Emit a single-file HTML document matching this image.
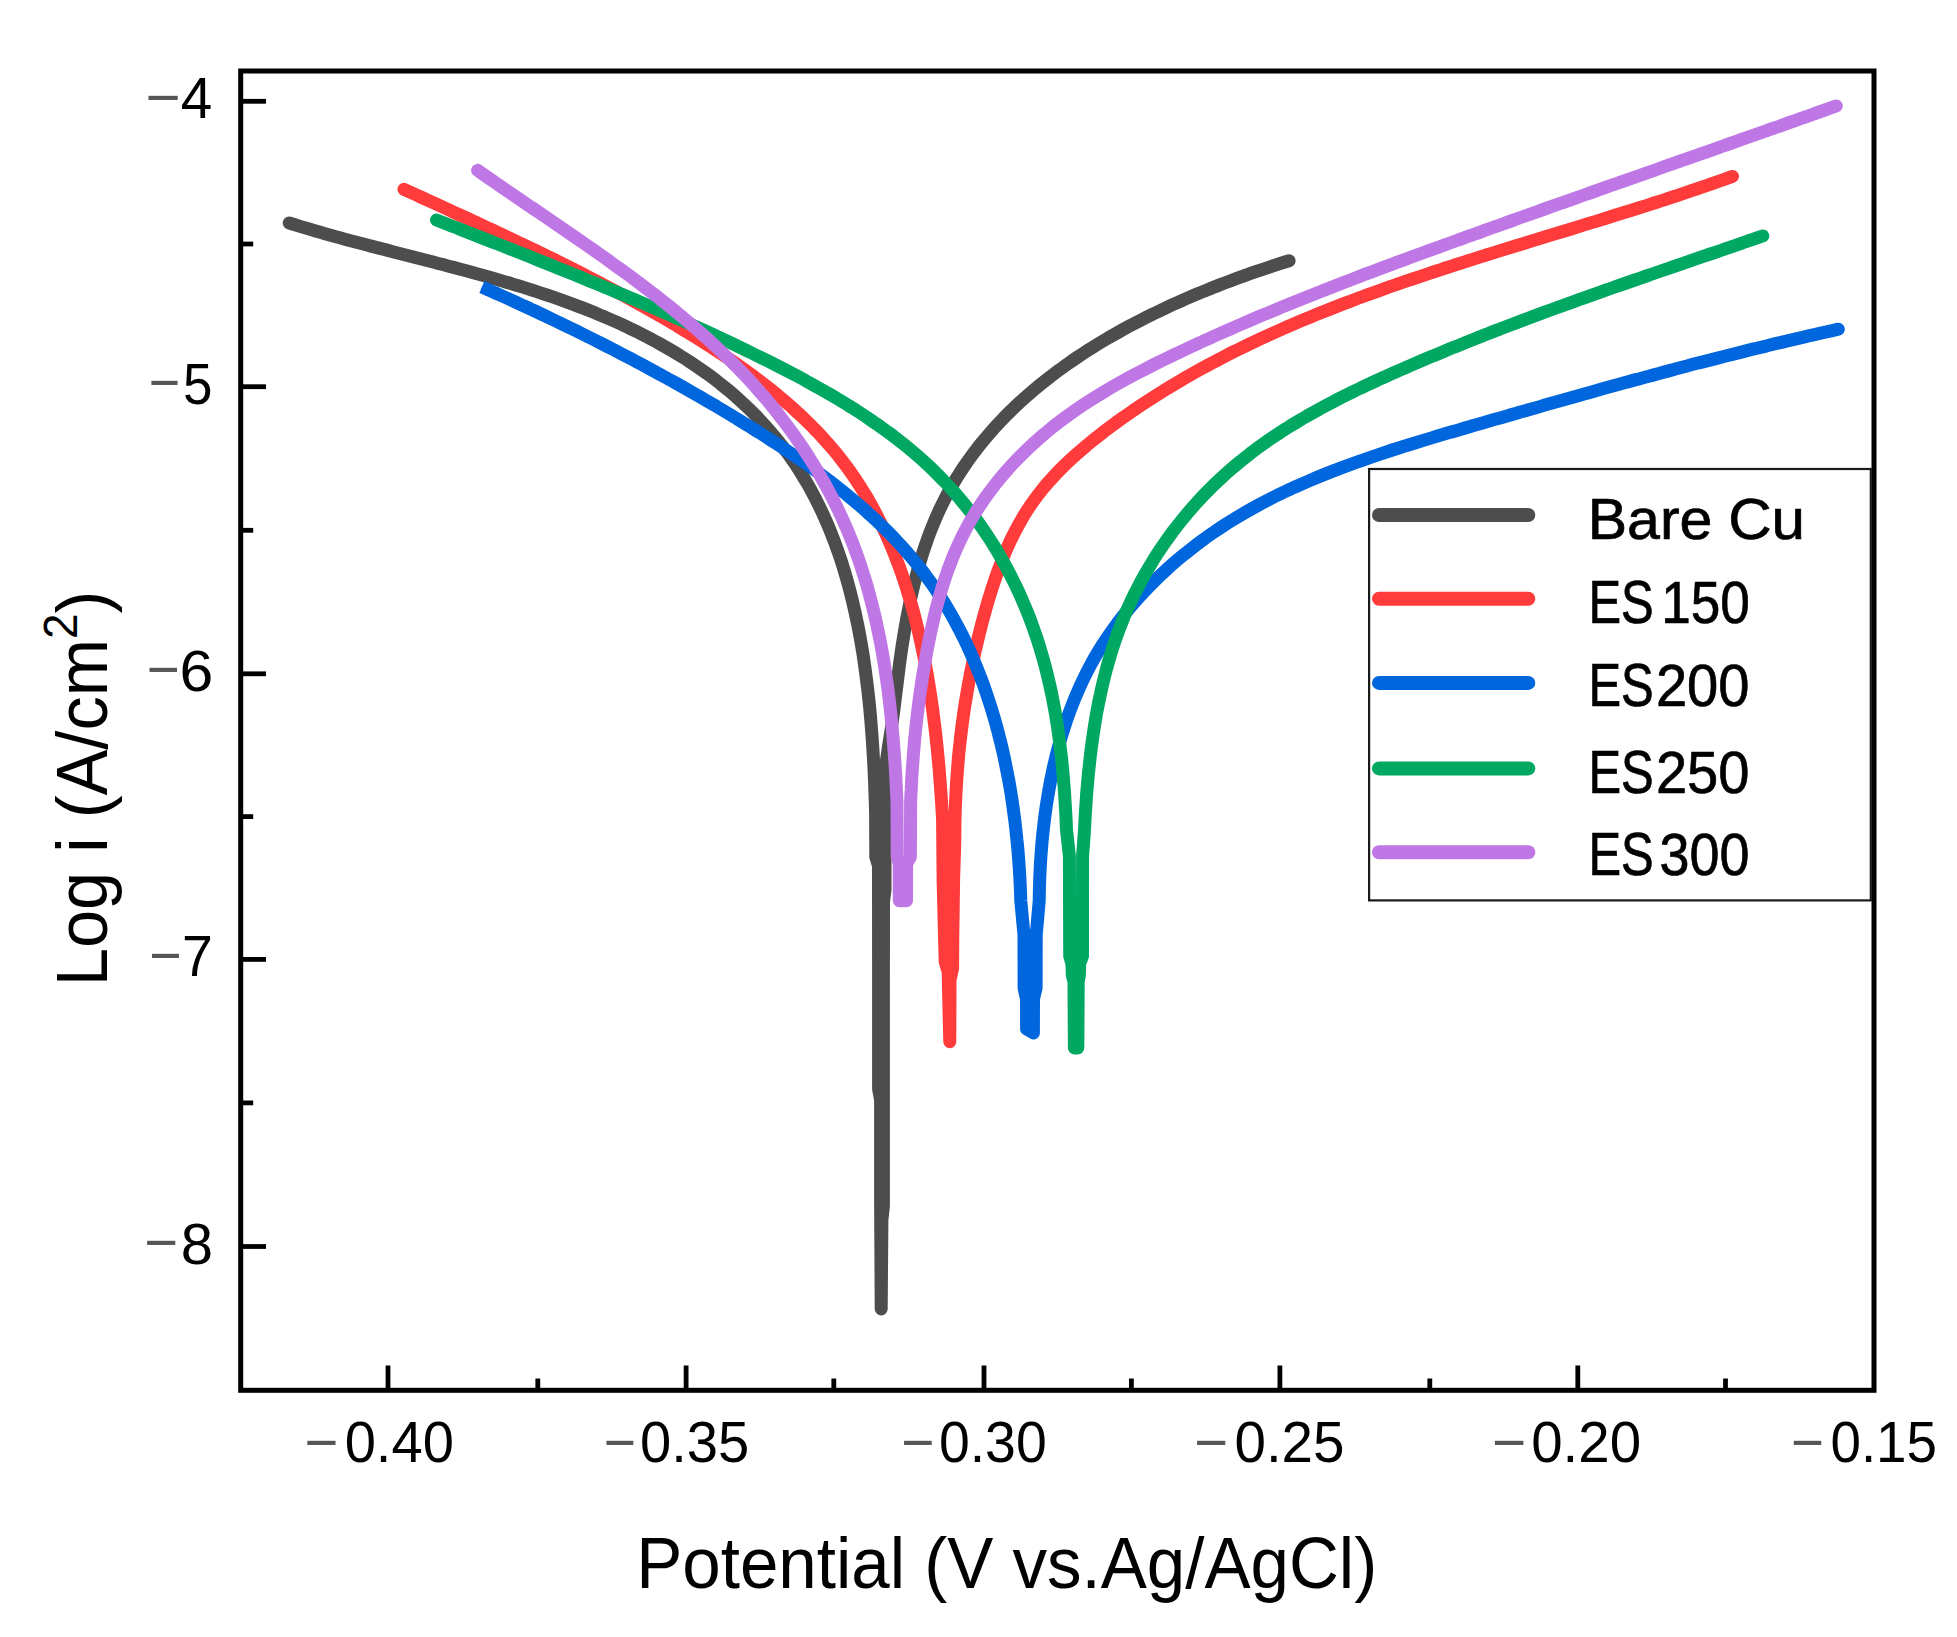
<!DOCTYPE html>
<html lang="en"><head><meta charset="utf-8"><title>Tafel polarization curves</title>
<style>html,body{margin:0;padding:0;background:#fff}svg{display:block}text{font-family:"Liberation Sans", sans-serif;fill:#000}</style>
</head><body>
<svg width="1957" height="1637" viewBox="0 0 1957 1637">
<rect x="0" y="0" width="1957" height="1637" fill="#fff"/>
<g>
<g fill="none" stroke-linejoin="round">
<path d="M289.2 223.0C293.1 224.2 296.9 225.4 300.8 226.6C304.7 227.7 308.6 228.9 312.5 230.0C316.4 231.2 320.3 232.3 324.2 233.4C328.1 234.5 332.0 235.6 335.9 236.7C339.8 237.7 343.7 238.8 347.6 239.9C351.5 240.9 355.5 242.0 359.4 243.0C363.3 244.0 367.2 245.1 371.1 246.1C375.1 247.1 379.0 248.1 382.9 249.1C386.8 250.2 390.8 251.2 394.7 252.2C398.6 253.2 402.5 254.2 406.5 255.2C410.4 256.2 414.3 257.2 418.3 258.2C422.2 259.2 426.1 260.2 430.0 261.2C434.0 262.3 437.9 263.3 441.8 264.3C445.7 265.3 449.6 266.4 453.6 267.4C457.5 268.4 461.4 269.5 465.3 270.5C469.2 271.6 473.1 272.7 477.0 273.8C480.9 274.8 484.9 275.9 488.8 277.0C492.7 278.1 496.5 279.3 500.4 280.4C504.3 281.5 508.2 282.7 512.1 283.9C516.0 285.0 519.9 286.2 523.7 287.4C527.6 288.7 531.5 289.9 535.3 291.1C539.2 292.4 543.0 293.7 546.9 295.0C550.7 296.3 554.5 297.6 558.3 298.9C562.2 300.3 566.0 301.7 569.8 303.1C573.6 304.5 577.4 305.9 581.2 307.4C584.9 308.8 588.7 310.3 592.5 311.8C596.2 313.4 600.0 314.9 603.7 316.5C607.4 318.1 611.2 319.7 614.9 321.4C618.6 323.0 622.2 324.7 625.9 326.4C629.6 328.2 633.2 329.9 636.9 331.7C640.5 333.5 644.1 335.4 647.7 337.2C651.3 339.1 654.9 341.0 658.4 343.0C662.0 345.0 665.5 347.0 669.0 349.0C672.5 351.0 676.0 353.1 679.4 355.3C682.9 357.4 686.3 359.6 689.7 361.8C693.1 364.0 696.4 366.3 699.8 368.6C703.1 370.9 706.4 373.2 709.7 375.6C712.9 378.0 716.2 380.5 719.4 383.0C722.5 385.5 725.7 388.0 728.8 390.6C731.9 393.2 735.0 395.9 738.0 398.6C741.0 401.3 744.0 404.1 746.9 406.9C749.9 409.7 752.7 412.5 755.6 415.4C758.4 418.3 761.2 421.3 763.9 424.3C766.6 427.3 769.3 430.3 771.9 433.4C774.6 436.5 777.1 439.6 779.6 442.8C782.1 446.0 784.6 449.2 787.0 452.5C789.4 455.8 791.7 459.1 794.0 462.4C796.3 465.8 798.5 469.2 800.7 472.6C802.8 476.0 804.9 479.5 807.0 483.0C809.0 486.5 811.0 490.1 812.9 493.7C814.8 497.2 816.6 500.8 818.4 504.5C820.2 508.1 822.0 511.8 823.6 515.5C825.3 519.2 826.9 522.9 828.5 526.6C830.1 530.4 831.6 534.1 833.0 537.9C834.5 541.7 835.9 545.5 837.2 549.3C838.6 553.1 839.9 557.0 841.2 560.8C842.4 564.7 843.6 568.5 844.8 572.4C845.9 576.3 847.1 580.2 848.1 584.1C849.2 588.0 850.2 592.0 851.2 595.9C852.2 599.8 853.1 603.8 854.0 607.7C855.0 611.7 855.8 615.6 856.6 619.6C857.5 623.6 858.3 627.5 859.0 631.5C859.8 635.5 860.5 639.5 861.2 643.5C861.9 647.5 862.5 651.5 863.2 655.5C863.8 659.5 864.4 663.5 864.9 667.5C865.5 671.5 866.0 675.6 866.5 679.6C867.0 683.6 867.5 687.6 868.0 691.7C868.4 695.7 868.9 699.7 869.3 703.7C869.7 707.8 870.1 711.8 870.4 715.9C870.8 719.9 871.1 723.9 871.4 728.0C871.7 732.0 872.0 736.1 872.3 740.1C872.6 744.1 872.8 748.2 873.1 752.2C873.3 756.3 873.5 760.3 873.8 764.4C874.0 768.4 874.2 772.5 874.3 776.5C874.5 780.6 874.7 784.6 874.8 788.7C875.0 792.7 875.1 796.8 875.2 800.8C875.4 804.9 875.5 808.9 875.6 813.0L875.6 813.0L875.8 857.0L878.5 866.0L878.6 1000.0L878.6 1089.0L880.6 1100.0L880.6 1200.0L881.2 1309.0L881.9 1220.0L883.4 1206.0L883.4 1000.0L883.5 902.0L885.0 890.0L885.0 813.0L884.6 772.8C885.2 768.8 885.8 764.7 886.4 760.7C887.0 756.6 887.6 752.6 888.2 748.5C888.8 744.5 889.4 740.5 890.1 736.4C890.7 732.4 891.3 728.3 891.9 724.3C892.4 720.2 893.0 716.2 893.6 712.1C894.1 708.1 894.6 704.0 895.1 700.0C895.6 695.9 896.1 691.8 896.6 687.8C897.1 683.7 897.6 679.7 898.1 675.6C898.6 671.6 899.1 667.5 899.6 663.4C900.2 659.4 900.7 655.3 901.3 651.3C901.9 647.2 902.5 643.2 903.2 639.2C903.8 635.1 904.5 631.1 905.2 627.1C905.9 623.0 906.6 619.0 907.4 615.0C908.2 611.0 909.0 607.0 909.8 603.0C910.6 599.0 911.5 595.0 912.5 591.0C913.4 587.0 914.3 583.0 915.4 579.1C916.4 575.1 917.4 571.2 918.5 567.2C919.7 563.3 920.8 559.4 922.0 555.5C923.3 551.6 924.5 547.7 925.9 543.8C927.2 540.0 928.6 536.1 930.0 532.3C931.5 528.5 933.0 524.7 934.6 520.9C936.2 517.1 937.8 513.4 939.6 509.7C941.3 506.0 943.1 502.3 945.0 498.7C946.8 495.0 948.8 491.4 950.8 487.9C952.8 484.3 954.9 480.8 957.0 477.3C959.2 473.9 961.4 470.4 963.7 467.0C966.0 463.6 968.3 460.3 970.7 457.0C973.1 453.7 975.6 450.4 978.1 447.2C980.7 444.0 983.2 440.8 985.9 437.7C988.5 434.6 991.2 431.5 993.9 428.4C996.7 425.4 999.5 422.4 1002.3 419.5C1005.1 416.5 1008.0 413.6 1010.9 410.8C1013.8 407.9 1016.8 405.1 1019.8 402.3C1022.8 399.5 1025.9 396.8 1029.0 394.1C1032.1 391.5 1035.2 388.8 1038.3 386.2C1041.5 383.6 1044.7 381.1 1047.9 378.6C1051.1 376.0 1054.4 373.6 1057.7 371.1C1061.0 368.7 1064.3 366.3 1067.6 364.0C1071.0 361.6 1074.3 359.3 1077.7 357.0C1081.1 354.8 1084.6 352.5 1088.0 350.3C1091.5 348.1 1094.9 345.9 1098.4 343.8C1101.9 341.7 1105.4 339.6 1108.9 337.5C1112.5 335.5 1116.0 333.5 1119.6 331.5C1123.2 329.5 1126.8 327.5 1130.4 325.6C1134.0 323.7 1137.6 321.8 1141.2 319.9C1144.9 318.0 1148.5 316.2 1152.2 314.4C1155.9 312.6 1159.6 310.8 1163.3 309.1C1167.0 307.3 1170.7 305.6 1174.4 303.9C1178.1 302.2 1181.8 300.6 1185.6 298.9C1189.3 297.3 1193.1 295.7 1196.9 294.1C1200.6 292.5 1204.4 291.0 1208.2 289.5C1212.0 287.9 1215.8 286.4 1219.6 284.9C1223.4 283.5 1227.3 282.0 1231.1 280.6C1234.9 279.1 1238.8 277.7 1242.6 276.3C1246.4 275.0 1250.3 273.6 1254.2 272.2C1258.0 270.9 1261.9 269.6 1265.8 268.3C1269.6 267.0 1273.5 265.7 1277.4 264.4C1281.3 263.2 1285.2 261.9 1289.1 260.7" stroke="#4d4d4d" stroke-width="13" stroke-linecap="round"/>
<path d="M404.0 189.3C407.7 191.0 411.5 192.7 415.2 194.4C418.9 196.1 422.6 197.9 426.4 199.6C430.1 201.3 433.8 203.0 437.6 204.7C441.3 206.4 445.0 208.1 448.8 209.8C452.5 211.6 456.2 213.3 459.9 215.0C463.7 216.7 467.4 218.4 471.1 220.2C474.8 221.9 478.6 223.6 482.3 225.3C486.0 227.1 489.7 228.8 493.4 230.5C497.1 232.3 500.9 234.0 504.6 235.8C508.3 237.5 512.0 239.3 515.7 241.1C519.4 242.8 523.1 244.6 526.8 246.4C530.5 248.1 534.2 249.9 537.9 251.7C541.6 253.5 545.3 255.3 549.0 257.1C552.6 258.9 556.3 260.7 560.0 262.6C563.7 264.4 567.3 266.2 571.0 268.1C574.7 269.9 578.3 271.8 582.0 273.6C585.6 275.5 589.3 277.4 592.9 279.3C596.6 281.1 600.2 283.0 603.8 285.0C607.5 286.9 611.1 288.8 614.7 290.7C618.3 292.7 621.9 294.6 625.5 296.6C629.2 298.5 632.7 300.5 636.3 302.5C639.9 304.5 643.5 306.5 647.1 308.5C650.7 310.5 654.2 312.6 657.8 314.6C661.3 316.7 664.9 318.7 668.4 320.8C672.0 322.9 675.5 325.0 679.0 327.1C682.5 329.2 686.0 331.3 689.5 333.5C693.0 335.6 696.5 337.8 700.0 339.9C703.5 342.1 706.9 344.3 710.4 346.6C713.8 348.8 717.3 351.0 720.7 353.3C724.1 355.6 727.5 357.9 730.9 360.2C734.3 362.5 737.6 364.8 741.0 367.2C744.3 369.6 747.7 372.0 751.0 374.4C754.3 376.9 757.6 379.3 760.8 381.8C764.1 384.3 767.3 386.8 770.5 389.4C773.7 392.0 776.9 394.6 780.0 397.2C783.2 399.8 786.3 402.5 789.4 405.2C792.5 407.9 795.5 410.7 798.5 413.4C801.5 416.2 804.5 419.1 807.4 421.9C810.4 424.8 813.3 427.7 816.1 430.7C819.0 433.6 821.8 436.6 824.5 439.7C827.3 442.7 830.0 445.8 832.6 448.9C835.3 452.0 837.9 455.2 840.4 458.4C843.0 461.7 845.4 464.9 847.9 468.3C850.3 471.6 852.6 474.9 854.9 478.3C857.2 481.7 859.5 485.2 861.6 488.7C863.8 492.1 865.9 495.7 868.0 499.2C870.0 502.8 872.0 506.3 874.0 510.0C875.9 513.6 877.8 517.2 879.6 520.9C881.5 524.6 883.2 528.3 884.9 532.0C886.7 535.7 888.3 539.5 889.9 543.3C891.5 547.0 893.1 550.8 894.6 554.6C896.1 558.5 897.6 562.3 899.0 566.1C900.4 570.0 901.8 573.9 903.1 577.8C904.4 581.6 905.7 585.5 906.9 589.5C908.1 593.4 909.3 597.3 910.5 601.2C911.6 605.2 912.7 609.1 913.8 613.1C914.8 617.1 915.9 621.0 916.8 625.0C917.8 629.0 918.8 633.0 919.7 637.0C920.6 641.0 921.5 645.0 922.3 649.0C923.2 653.0 924.0 657.1 924.8 661.1C925.5 665.1 926.3 669.2 927.0 673.2C927.7 677.2 928.4 681.3 929.0 685.3C929.7 689.4 930.3 693.4 930.9 697.5C931.5 701.6 932.1 705.6 932.7 709.7C933.2 713.7 933.7 717.8 934.2 721.9C934.8 726.0 935.2 730.0 935.7 734.1C936.1 738.2 936.6 742.3 937.0 746.4C937.4 750.4 937.8 754.5 938.2 758.6C938.6 762.7 938.9 766.8 939.3 770.9C939.6 775.0 939.9 779.1 940.2 783.1C940.5 787.2 940.8 791.3 941.1 795.4C941.4 799.5 941.6 803.6 941.9 807.7C942.1 811.8 942.4 815.9 942.6 820.0L942.6 820.0L943.1 880.0L944.6 940.0L945.2 962.0L948.2 972.0L949.0 1010.0L949.8 1041.8L949.9 1010.0L950.0 980.0L952.6 968.0L952.8 936.0L953.6 880.0L954.8 840.0C954.8 835.9 954.8 831.9 954.9 827.8C954.9 823.7 955.0 819.7 955.1 815.6C955.2 811.6 955.3 807.5 955.5 803.4C955.7 799.4 955.8 795.3 956.1 791.3C956.3 787.2 956.5 783.2 956.8 779.1C957.1 775.0 957.4 771.0 957.7 766.9C958.0 762.9 958.4 758.8 958.7 754.8C959.1 750.8 959.5 746.7 960.0 742.7C960.4 738.6 960.9 734.6 961.4 730.6C961.9 726.5 962.4 722.5 963.0 718.5C963.5 714.5 964.1 710.4 964.7 706.4C965.4 702.4 966.0 698.4 966.7 694.4C967.3 690.4 968.1 686.4 968.8 682.4C969.5 678.4 970.3 674.4 971.1 670.4C971.9 666.4 972.7 662.5 973.6 658.5C974.4 654.5 975.3 650.5 976.2 646.6C977.1 642.6 978.1 638.7 979.0 634.7C980.0 630.8 981.0 626.8 982.0 622.9C983.1 619.0 984.1 615.1 985.2 611.2C986.3 607.2 987.4 603.3 988.6 599.4C989.8 595.5 991.0 591.7 992.2 587.8C993.5 583.9 994.7 580.1 996.1 576.2C997.4 572.4 998.8 568.6 1000.3 564.8C1001.7 561.0 1003.2 557.2 1004.8 553.5C1006.4 549.7 1008.0 546.0 1009.7 542.3C1011.4 538.6 1013.2 535.0 1015.1 531.4C1016.9 527.8 1018.9 524.2 1020.9 520.7C1022.9 517.2 1025.0 513.7 1027.2 510.3C1029.4 506.8 1031.7 503.5 1034.1 500.2C1036.5 496.9 1038.9 493.7 1041.5 490.5C1044.0 487.3 1046.7 484.2 1049.4 481.2C1052.0 478.2 1054.8 475.2 1057.6 472.2C1060.4 469.3 1063.3 466.5 1066.3 463.6C1069.2 460.8 1072.2 458.1 1075.2 455.4C1078.2 452.6 1081.3 450.0 1084.4 447.4C1087.5 444.7 1090.6 442.2 1093.8 439.6C1097.0 437.1 1100.2 434.6 1103.4 432.1C1106.6 429.6 1109.9 427.2 1113.2 424.8C1116.4 422.4 1119.7 420.0 1123.0 417.7C1126.4 415.3 1129.7 413.0 1133.0 410.7C1136.4 408.4 1139.8 406.1 1143.1 403.9C1146.5 401.6 1149.9 399.4 1153.4 397.2C1156.8 395.0 1160.2 392.9 1163.7 390.7C1167.1 388.6 1170.6 386.5 1174.1 384.4C1177.6 382.3 1181.1 380.3 1184.6 378.2C1188.1 376.2 1191.6 374.2 1195.2 372.2C1198.7 370.2 1202.3 368.2 1205.9 366.3C1209.4 364.4 1213.0 362.4 1216.6 360.6C1220.2 358.7 1223.8 356.8 1227.4 354.9C1231.0 353.1 1234.7 351.3 1238.3 349.5C1242.0 347.7 1245.6 345.9 1249.3 344.1C1252.9 342.4 1256.6 340.6 1260.3 338.9C1264.0 337.2 1267.7 335.5 1271.4 333.8C1275.1 332.2 1278.8 330.5 1282.5 328.9C1286.2 327.2 1289.9 325.6 1293.7 324.0C1297.4 322.4 1301.2 320.8 1304.9 319.3C1308.7 317.7 1312.4 316.2 1316.2 314.6C1319.9 313.1 1323.7 311.6 1327.5 310.1C1331.3 308.6 1335.1 307.1 1338.8 305.6C1342.6 304.2 1346.4 302.7 1350.2 301.3C1354.0 299.8 1357.8 298.4 1361.6 297.0C1365.4 295.6 1369.3 294.2 1373.1 292.8C1376.9 291.4 1380.7 290.1 1384.6 288.7C1388.4 287.3 1392.2 286.0 1396.1 284.7C1399.9 283.3 1403.7 282.0 1407.6 280.7C1411.4 279.4 1415.3 278.1 1419.1 276.8C1423.0 275.5 1426.8 274.2 1430.7 272.9C1434.5 271.6 1438.4 270.4 1442.3 269.1C1446.1 267.8 1450.0 266.6 1453.8 265.3C1457.7 264.1 1461.6 262.8 1465.5 261.6C1469.3 260.4 1473.2 259.1 1477.1 257.9C1480.9 256.7 1484.8 255.5 1488.7 254.3C1492.6 253.1 1496.5 251.8 1500.3 250.6C1504.2 249.4 1508.1 248.2 1512.0 247.0C1515.9 245.8 1519.7 244.6 1523.6 243.5C1527.5 242.3 1531.4 241.1 1535.3 239.9C1539.2 238.7 1543.1 237.5 1546.9 236.3C1550.8 235.1 1554.7 233.9 1558.6 232.8C1562.5 231.6 1566.4 230.4 1570.3 229.2C1574.1 228.0 1578.0 226.8 1581.9 225.6C1585.8 224.4 1589.7 223.2 1593.6 222.1C1597.4 220.9 1601.3 219.7 1605.2 218.5C1609.1 217.3 1613.0 216.0 1616.8 214.8C1620.7 213.6 1624.6 212.4 1628.5 211.2C1632.4 210.0 1636.2 208.8 1640.1 207.5C1644.0 206.3 1647.8 205.1 1651.7 203.8C1655.6 202.6 1659.4 201.3 1663.3 200.1C1667.2 198.8 1671.0 197.5 1674.9 196.3C1678.7 195.0 1682.6 193.7 1686.5 192.4C1690.3 191.1 1694.2 189.8 1698.0 188.5C1701.8 187.2 1705.7 185.9 1709.5 184.5C1713.4 183.2 1717.2 181.9 1721.0 180.5C1724.9 179.1 1728.7 177.8 1732.5 176.4" stroke="#ff3b3b" stroke-width="13" stroke-linecap="round"/>
<path d="M481.9 287.0 L489.7 290.4" stroke="#0066dd" stroke-width="13" stroke-linecap="butt"/>
<path d="M487.9 289.6C491.6 291.2 495.3 292.9 499.1 294.6C502.8 296.3 506.5 298.0 510.3 299.7C514.0 301.4 517.7 303.1 521.4 304.8C525.1 306.5 528.9 308.2 532.6 310.0C536.3 311.7 540.0 313.4 543.7 315.2C547.4 317.0 551.1 318.7 554.8 320.5C558.5 322.3 562.1 324.0 565.8 325.8C569.5 327.6 573.2 329.4 576.9 331.2C580.5 333.0 584.2 334.8 587.9 336.7C591.5 338.5 595.2 340.3 598.8 342.2C602.5 344.0 606.1 345.9 609.8 347.8C613.4 349.6 617.1 351.5 620.7 353.4C624.3 355.3 628.0 357.2 631.6 359.1C635.2 361.0 638.8 362.9 642.4 364.8C646.0 366.8 649.6 368.7 653.2 370.7C656.8 372.6 660.4 374.6 664.0 376.6C667.6 378.5 671.2 380.5 674.8 382.5C678.3 384.5 681.9 386.5 685.5 388.5C689.0 390.5 692.6 392.6 696.1 394.6C699.7 396.7 703.2 398.7 706.8 400.8C710.3 402.8 713.8 404.9 717.4 407.0C720.9 409.1 724.4 411.2 727.9 413.3C731.4 415.4 734.9 417.5 738.4 419.7C741.9 421.8 745.4 423.9 748.9 426.1C752.3 428.3 755.8 430.4 759.3 432.6C762.7 434.8 766.2 437.0 769.6 439.2C773.1 441.4 776.5 443.7 779.9 445.9C783.3 448.2 786.7 450.5 790.1 452.8C793.5 455.1 796.9 457.4 800.3 459.7C803.6 462.0 807.0 464.4 810.3 466.8C813.6 469.2 816.9 471.6 820.2 474.0C823.5 476.5 826.8 478.9 830.0 481.4C833.3 483.9 836.5 486.4 839.7 489.0C842.9 491.5 846.1 494.1 849.2 496.7C852.4 499.3 855.5 502.0 858.6 504.6C861.7 507.3 864.8 510.0 867.8 512.8C870.9 515.5 873.9 518.3 876.9 521.1C879.8 523.9 882.8 526.8 885.7 529.6C888.6 532.5 891.5 535.4 894.3 538.4C897.1 541.4 899.9 544.4 902.6 547.4C905.4 550.4 908.1 553.5 910.7 556.6C913.4 559.8 916.0 562.9 918.5 566.1C921.1 569.3 923.6 572.6 926.0 575.9C928.5 579.1 930.9 582.5 933.2 585.8C935.5 589.2 937.8 592.6 940.0 596.0C942.2 599.5 944.4 603.0 946.5 606.5C948.6 610.0 950.7 613.5 952.7 617.1C954.7 620.7 956.6 624.3 958.5 627.9C960.4 631.5 962.3 635.2 964.1 638.9C965.9 642.5 967.6 646.2 969.3 650.0C971.0 653.7 972.6 657.4 974.2 661.2C975.8 665.0 977.3 668.8 978.8 672.6C980.3 676.4 981.8 680.2 983.2 684.1C984.6 687.9 985.9 691.8 987.2 695.7C988.5 699.6 989.8 703.5 991.0 707.4C992.2 711.3 993.4 715.2 994.5 719.1C995.7 723.1 996.7 727.0 997.8 731.0C998.8 734.9 999.8 738.9 1000.8 742.9C1001.8 746.9 1002.7 750.8 1003.6 754.8C1004.5 758.8 1005.3 762.8 1006.1 766.9C1006.9 770.9 1007.7 774.9 1008.5 778.9C1009.2 782.9 1009.9 787.0 1010.6 791.0C1011.2 795.1 1011.9 799.1 1012.5 803.2C1013.1 807.2 1013.6 811.3 1014.1 815.3C1014.7 819.4 1015.2 823.4 1015.6 827.5C1016.1 831.6 1016.5 835.6 1016.9 839.7C1017.4 843.8 1017.7 847.9 1018.1 852.0C1018.4 856.0 1018.7 860.1 1019.0 864.2C1019.3 868.3 1019.5 872.4 1019.8 876.5C1020.0 880.5 1020.2 884.6 1020.4 888.7C1020.5 892.8 1020.7 896.9 1020.8 901.0L1020.8 901.0L1024.0 935.0L1024.1 988.0L1026.5 999.0L1026.6 1029.0L1033.4 1033.0L1033.5 999.0L1036.1 988.0L1036.2 935.0L1039.2 901.0C1039.3 896.9 1039.3 892.9 1039.4 888.8C1039.5 884.7 1039.7 880.7 1039.8 876.6C1040.0 872.5 1040.2 868.5 1040.4 864.4C1040.7 860.4 1040.9 856.3 1041.2 852.2C1041.5 848.2 1041.9 844.1 1042.2 840.1C1042.6 836.0 1043.0 832.0 1043.5 827.9C1043.9 823.9 1044.4 819.9 1044.9 815.8C1045.5 811.8 1046.0 807.8 1046.6 803.7C1047.3 799.7 1047.9 795.7 1048.6 791.7C1049.3 787.7 1050.0 783.7 1050.8 779.7C1051.6 775.7 1052.5 771.7 1053.3 767.8C1054.2 763.8 1055.2 759.8 1056.1 755.9C1057.1 751.9 1058.2 748.0 1059.2 744.1C1060.3 740.2 1061.5 736.3 1062.7 732.4C1063.9 728.5 1065.1 724.6 1066.4 720.8C1067.8 716.9 1069.1 713.1 1070.5 709.3C1072.0 705.5 1073.5 701.7 1075.0 697.9C1076.6 694.2 1078.2 690.4 1079.9 686.7C1081.5 683.0 1083.3 679.3 1085.1 675.7C1086.9 672.0 1088.8 668.4 1090.7 664.8C1092.6 661.3 1094.6 657.7 1096.7 654.2C1098.8 650.7 1100.9 647.3 1103.1 643.9C1105.3 640.4 1107.6 637.0 1109.9 633.7C1112.2 630.4 1114.6 627.1 1117.0 623.8C1119.5 620.6 1122.0 617.3 1124.5 614.2C1127.1 611.0 1129.7 607.9 1132.3 604.8C1135.0 601.7 1137.7 598.6 1140.4 595.6C1143.1 592.6 1145.9 589.7 1148.8 586.8C1151.6 583.8 1154.5 581.0 1157.4 578.1C1160.3 575.3 1163.3 572.5 1166.3 569.8C1169.3 567.0 1172.4 564.3 1175.4 561.7C1178.5 559.0 1181.6 556.4 1184.8 553.9C1188.0 551.3 1191.2 548.8 1194.4 546.3C1197.6 543.8 1200.9 541.4 1204.2 539.0C1207.5 536.6 1210.8 534.3 1214.1 532.0C1217.5 529.7 1220.9 527.4 1224.3 525.2C1227.7 523.0 1231.2 520.9 1234.6 518.8C1238.1 516.6 1241.6 514.6 1245.1 512.5C1248.7 510.5 1252.2 508.5 1255.8 506.5C1259.3 504.6 1262.9 502.7 1266.6 500.8C1270.2 498.9 1273.8 497.1 1277.4 495.3C1281.1 493.5 1284.8 491.8 1288.4 490.0C1292.1 488.3 1295.8 486.6 1299.5 485.0C1303.3 483.3 1307.0 481.7 1310.7 480.1C1314.5 478.5 1318.2 476.9 1322.0 475.4C1325.8 473.9 1329.6 472.4 1333.3 470.9C1337.1 469.4 1340.9 468.0 1344.7 466.6C1348.6 465.1 1352.4 463.7 1356.2 462.4C1360.0 461.0 1363.9 459.6 1367.7 458.3C1371.6 457.0 1375.4 455.7 1379.3 454.4C1383.1 453.1 1387.0 451.8 1390.9 450.5C1394.7 449.3 1398.6 448.0 1402.5 446.8C1406.4 445.6 1410.2 444.4 1414.1 443.2C1418.0 442.0 1421.9 440.8 1425.8 439.6C1429.7 438.4 1433.6 437.3 1437.5 436.1C1441.4 434.9 1445.3 433.8 1449.2 432.6C1453.1 431.5 1457.0 430.4 1460.9 429.2C1464.8 428.1 1468.7 427.0 1472.6 425.8C1476.5 424.7 1480.4 423.6 1484.3 422.5C1488.3 421.3 1492.2 420.2 1496.1 419.1C1500.0 418.0 1503.9 416.8 1507.8 415.7C1511.7 414.6 1515.6 413.5 1519.5 412.3C1523.4 411.2 1527.4 410.1 1531.3 409.0C1535.2 407.9 1539.1 406.8 1543.0 405.6C1546.9 404.5 1550.8 403.4 1554.7 402.3C1558.7 401.2 1562.6 400.1 1566.5 399.0C1570.4 397.9 1574.3 396.8 1578.2 395.7C1582.1 394.6 1586.1 393.5 1590.0 392.4C1593.9 391.3 1597.8 390.2 1601.7 389.1C1605.7 388.0 1609.6 386.9 1613.5 385.8C1617.4 384.8 1621.3 383.7 1625.3 382.6C1629.2 381.5 1633.1 380.4 1637.0 379.4C1641.0 378.3 1644.9 377.2 1648.8 376.2C1652.7 375.1 1656.7 374.1 1660.6 373.0C1664.5 372.0 1668.4 370.9 1672.4 369.9C1676.3 368.8 1680.2 367.8 1684.2 366.7C1688.1 365.7 1692.0 364.7 1696.0 363.6C1699.9 362.6 1703.9 361.6 1707.8 360.6C1711.7 359.6 1715.7 358.6 1719.6 357.6C1723.6 356.5 1727.5 355.5 1731.4 354.6C1735.4 353.6 1739.3 352.6 1743.3 351.6C1747.2 350.6 1751.2 349.6 1755.1 348.7C1759.1 347.7 1763.0 346.7 1767.0 345.8C1770.9 344.8 1774.9 343.8 1778.8 342.9C1782.8 342.0 1786.8 341.0 1790.7 340.1C1794.7 339.1 1798.6 338.2 1802.6 337.3C1806.6 336.4 1810.5 335.5 1814.5 334.6C1818.5 333.6 1822.4 332.7 1826.4 331.9C1830.4 331.0 1834.3 330.1 1838.3 329.2" stroke="#0066dd" stroke-width="13" stroke-linecap="round"/>
<path d="M436.5 220.0C440.3 221.5 444.1 223.0 447.9 224.5C451.7 226.0 455.5 227.5 459.2 228.9C463.0 230.4 466.8 231.9 470.6 233.4C474.4 234.9 478.2 236.4 482.0 237.9C485.8 239.4 489.6 240.9 493.4 242.4C497.2 243.8 500.9 245.3 504.7 246.8C508.5 248.3 512.3 249.8 516.1 251.3C519.9 252.8 523.7 254.3 527.5 255.8C531.2 257.3 535.0 258.8 538.8 260.4C542.6 261.9 546.4 263.4 550.2 264.9C553.9 266.4 557.7 267.9 561.5 269.5C565.3 271.0 569.1 272.5 572.8 274.0C576.6 275.6 580.4 277.1 584.1 278.7C587.9 280.2 591.7 281.7 595.5 283.3C599.2 284.8 603.0 286.4 606.7 288.0C610.5 289.5 614.3 291.1 618.0 292.7C621.8 294.3 625.5 295.8 629.3 297.4C633.0 299.0 636.8 300.6 640.5 302.2C644.3 303.8 648.0 305.4 651.7 307.1C655.5 308.7 659.2 310.3 663.0 311.9C666.7 313.6 670.4 315.2 674.1 316.9C677.9 318.5 681.6 320.2 685.3 321.9C689.0 323.5 692.7 325.2 696.4 326.9C700.1 328.6 703.8 330.3 707.5 332.0C711.2 333.7 714.9 335.4 718.6 337.1C722.3 338.9 726.0 340.6 729.7 342.3C733.4 344.1 737.0 345.9 740.7 347.6C744.4 349.4 748.0 351.2 751.7 353.0C755.3 354.8 759.0 356.6 762.6 358.4C766.3 360.2 769.9 362.0 773.6 363.9C777.2 365.7 780.8 367.6 784.4 369.4C788.1 371.3 791.7 373.2 795.3 375.1C798.9 377.0 802.5 378.9 806.0 380.9C809.6 382.8 813.2 384.8 816.7 386.8C820.3 388.8 823.8 390.8 827.4 392.8C830.9 394.9 834.4 396.9 837.9 399.0C841.4 401.1 844.9 403.2 848.3 405.4C851.8 407.5 855.2 409.7 858.6 411.9C862.1 414.1 865.5 416.4 868.8 418.7C872.2 420.9 875.6 423.3 878.9 425.6C882.2 428.0 885.5 430.3 888.8 432.8C892.1 435.2 895.3 437.7 898.5 440.2C901.7 442.7 904.9 445.2 908.1 447.8C911.2 450.4 914.3 453.0 917.4 455.7C920.5 458.4 923.5 461.1 926.5 463.8C929.5 466.6 932.5 469.4 935.4 472.3C938.3 475.1 941.1 478.0 943.9 481.0C946.8 483.9 949.5 486.9 952.2 489.9C955.0 493.0 957.6 496.1 960.2 499.2C962.9 502.3 965.4 505.5 967.9 508.7C970.5 511.9 972.9 515.1 975.4 518.4C977.8 521.7 980.1 525.0 982.5 528.3C984.8 531.7 987.0 535.1 989.3 538.5C991.5 541.9 993.6 545.3 995.8 548.8C997.9 552.3 999.9 555.8 1001.9 559.4C1004.0 562.9 1005.9 566.5 1007.8 570.1C1009.7 573.7 1011.6 577.3 1013.4 581.0C1015.2 584.6 1017.0 588.3 1018.7 592.0C1020.4 595.7 1022.0 599.4 1023.6 603.2C1025.2 606.9 1026.8 610.7 1028.3 614.5C1029.8 618.3 1031.2 622.1 1032.6 625.9C1034.0 629.7 1035.3 633.6 1036.6 637.4C1037.9 641.3 1039.1 645.2 1040.3 649.1C1041.5 653.0 1042.6 656.9 1043.7 660.8C1044.8 664.7 1045.8 668.7 1046.8 672.6C1047.8 676.6 1048.7 680.5 1049.6 684.5C1050.5 688.5 1051.4 692.5 1052.2 696.5C1053.0 700.5 1053.7 704.5 1054.5 708.5C1055.2 712.5 1055.9 716.5 1056.5 720.5C1057.2 724.6 1057.8 728.6 1058.3 732.6C1058.9 736.6 1059.4 740.7 1059.9 744.7C1060.4 748.8 1060.9 752.8 1061.4 756.9C1061.8 760.9 1062.2 765.0 1062.6 769.0C1063.0 773.1 1063.3 777.1 1063.6 781.2C1064.0 785.3 1064.3 789.3 1064.6 793.4C1064.8 797.5 1065.1 801.5 1065.3 805.6C1065.6 809.7 1065.8 813.7 1066.0 817.8C1066.2 821.9 1066.3 825.9 1066.5 830.0L1066.5 830.0L1069.4 856.0L1069.6 920.0L1069.7 956.0L1072.0 964.0L1072.3 975.0L1074.0 982.0L1074.2 1020.0L1074.4 1047.9L1077.8 1047.9L1078.0 1020.0L1078.2 982.0L1079.4 975.0L1079.6 964.0L1082.5 956.0L1082.5 920.0L1082.6 856.0L1084.5 830.0C1084.7 826.0 1084.9 821.9 1085.1 817.9C1085.3 813.8 1085.6 809.8 1085.9 805.7C1086.1 801.7 1086.4 797.6 1086.7 793.6C1087.0 789.5 1087.4 785.5 1087.7 781.4C1088.1 777.4 1088.4 773.4 1088.9 769.3C1089.3 765.3 1089.7 761.3 1090.2 757.2C1090.6 753.2 1091.1 749.2 1091.7 745.2C1092.2 741.1 1092.8 737.1 1093.4 733.1C1094.0 729.1 1094.6 725.1 1095.3 721.1C1095.9 717.1 1096.6 713.1 1097.4 709.1C1098.1 705.1 1098.9 701.2 1099.8 697.2C1100.6 693.2 1101.5 689.3 1102.4 685.3C1103.3 681.4 1104.3 677.4 1105.3 673.5C1106.3 669.6 1107.4 665.7 1108.5 661.8C1109.6 657.9 1110.8 654.0 1112.0 650.1C1113.2 646.2 1114.5 642.4 1115.8 638.6C1117.2 634.7 1118.5 630.9 1120.0 627.1C1121.4 623.4 1123.0 619.6 1124.5 615.9C1126.1 612.1 1127.7 608.4 1129.4 604.7C1131.1 601.0 1132.8 597.4 1134.6 593.7C1136.4 590.1 1138.3 586.5 1140.2 582.9C1142.1 579.3 1144.1 575.8 1146.1 572.3C1148.1 568.7 1150.2 565.3 1152.3 561.8C1154.4 558.3 1156.6 554.9 1158.8 551.5C1161.1 548.2 1163.3 544.8 1165.7 541.5C1168.0 538.2 1170.4 534.9 1172.8 531.6C1175.3 528.4 1177.7 525.2 1180.3 522.0C1182.8 518.9 1185.4 515.7 1188.0 512.6C1190.6 509.5 1193.3 506.5 1196.0 503.5C1198.8 500.5 1201.5 497.5 1204.3 494.6C1207.1 491.7 1210.0 488.8 1212.9 485.9C1215.8 483.1 1218.7 480.3 1221.7 477.6C1224.7 474.8 1227.7 472.1 1230.8 469.4C1233.8 466.8 1236.9 464.2 1240.1 461.6C1243.2 459.0 1246.4 456.5 1249.6 454.0C1252.8 451.6 1256.1 449.1 1259.3 446.8C1262.6 444.4 1265.9 442.0 1269.3 439.7C1272.6 437.4 1276.0 435.2 1279.4 433.0C1282.8 430.7 1286.2 428.6 1289.6 426.4C1293.1 424.3 1296.6 422.2 1300.0 420.1C1303.5 418.1 1307.0 416.0 1310.6 414.0C1314.1 412.0 1317.6 410.1 1321.2 408.1C1324.8 406.2 1328.3 404.3 1331.9 402.4C1335.5 400.5 1339.1 398.7 1342.8 396.8C1346.4 395.0 1350.0 393.2 1353.7 391.4C1357.3 389.6 1361.0 387.9 1364.6 386.1C1368.3 384.4 1372.0 382.7 1375.6 381.0C1379.3 379.3 1383.0 377.6 1386.7 376.0C1390.4 374.3 1394.1 372.6 1397.8 371.0C1401.5 369.4 1405.3 367.8 1409.0 366.1C1412.7 364.5 1416.4 362.9 1420.2 361.3C1423.9 359.7 1427.6 358.2 1431.4 356.6C1435.1 355.0 1438.8 353.5 1442.6 351.9C1446.3 350.4 1450.1 348.8 1453.8 347.3C1457.6 345.8 1461.4 344.2 1465.1 342.7C1468.9 341.2 1472.6 339.7 1476.4 338.2C1480.2 336.7 1484.0 335.3 1487.7 333.8C1491.5 332.3 1495.3 330.8 1499.1 329.4C1502.9 327.9 1506.7 326.5 1510.4 325.0C1514.2 323.6 1518.0 322.1 1521.8 320.7C1525.6 319.3 1529.4 317.9 1533.2 316.4C1537.0 315.0 1540.8 313.6 1544.6 312.2C1548.4 310.8 1552.2 309.4 1556.0 308.0C1559.8 306.6 1563.7 305.2 1567.5 303.9C1571.3 302.5 1575.1 301.1 1578.9 299.7C1582.7 298.4 1586.6 297.0 1590.4 295.6C1594.2 294.3 1598.0 292.9 1601.8 291.6C1605.7 290.2 1609.5 288.9 1613.3 287.5C1617.1 286.2 1621.0 284.8 1624.8 283.5C1628.6 282.2 1632.5 280.8 1636.3 279.5C1640.1 278.2 1643.9 276.8 1647.8 275.5C1651.6 274.2 1655.4 272.9 1659.3 271.5C1663.1 270.2 1666.9 268.9 1670.8 267.6C1674.6 266.3 1678.4 264.9 1682.3 263.6C1686.1 262.3 1689.9 261.0 1693.8 259.7C1697.6 258.4 1701.5 257.0 1705.3 255.7C1709.1 254.4 1713.0 253.1 1716.8 251.8C1720.6 250.4 1724.5 249.1 1728.3 247.8C1732.1 246.5 1736.0 245.2 1739.8 243.9C1743.6 242.5 1747.5 241.2 1751.3 239.9C1755.1 238.6 1759.0 237.2 1762.8 235.9" stroke="#00a862" stroke-width="13" stroke-linecap="round"/>
<path d="M477.6 170.3C481.0 172.7 484.3 175.0 487.7 177.4C491.1 179.7 494.5 182.1 497.8 184.4C501.2 186.7 504.6 189.1 508.0 191.4C511.4 193.7 514.8 196.0 518.2 198.4C521.6 200.7 525.0 203.0 528.4 205.3C531.8 207.6 535.2 209.9 538.6 212.2C542.0 214.6 545.4 216.9 548.8 219.2C552.2 221.5 555.6 223.8 559.0 226.1C562.4 228.4 565.8 230.8 569.2 233.1C572.6 235.4 576.0 237.8 579.4 240.1C582.7 242.4 586.1 244.8 589.5 247.1C592.9 249.5 596.2 251.8 599.6 254.2C603.0 256.6 606.3 259.0 609.7 261.4C613.0 263.8 616.3 266.2 619.7 268.6C623.0 271.0 626.3 273.4 629.6 275.8C632.9 278.3 636.2 280.7 639.5 283.2C642.8 285.7 646.1 288.2 649.4 290.7C652.6 293.2 655.9 295.7 659.1 298.2C662.3 300.8 665.6 303.3 668.8 305.9C672.0 308.5 675.2 311.1 678.3 313.7C681.5 316.3 684.7 318.9 687.8 321.6C690.9 324.3 694.1 326.9 697.2 329.7C700.3 332.4 703.3 335.1 706.4 337.8C709.4 340.6 712.5 343.4 715.5 346.2C718.5 349.0 721.5 351.8 724.4 354.7C727.4 357.5 730.3 360.4 733.2 363.3C736.1 366.3 739.0 369.2 741.8 372.2C744.7 375.1 747.5 378.1 750.3 381.2C753.1 384.2 755.8 387.3 758.5 390.4C761.2 393.4 763.9 396.6 766.6 399.7C769.2 402.9 771.8 406.0 774.4 409.2C777.0 412.4 779.5 415.7 782.0 418.9C784.5 422.2 787.0 425.5 789.4 428.8C791.9 432.1 794.3 435.5 796.6 438.8C799.0 442.2 801.3 445.6 803.6 449.0C805.9 452.4 808.1 455.9 810.3 459.4C812.5 462.9 814.6 466.4 816.8 469.9C818.9 473.4 820.9 477.0 823.0 480.6C825.0 484.1 827.0 487.7 828.9 491.4C830.8 495.0 832.7 498.7 834.6 502.3C836.4 506.0 838.2 509.7 839.9 513.4C841.7 517.2 843.4 520.9 845.0 524.7C846.7 528.4 848.3 532.2 849.8 536.0C851.4 539.8 852.9 543.7 854.3 547.5C855.8 551.4 857.2 555.2 858.5 559.1C859.9 563.0 861.2 566.9 862.4 570.8C863.7 574.8 864.9 578.7 866.1 582.6C867.2 586.6 868.4 590.5 869.4 594.5C870.5 598.5 871.5 602.4 872.5 606.4C873.5 610.4 874.5 614.4 875.4 618.4C876.3 622.4 877.2 626.5 878.0 630.5C878.9 634.5 879.7 638.6 880.5 642.6C881.2 646.6 882.0 650.7 882.7 654.7C883.4 658.8 884.0 662.8 884.7 666.9C885.3 671.0 885.9 675.0 886.5 679.1C887.1 683.2 887.7 687.3 888.2 691.3C888.7 695.4 889.2 699.5 889.7 703.6C890.1 707.7 890.6 711.8 891.0 715.8C891.4 719.9 891.8 724.0 892.2 728.1C892.6 732.2 892.9 736.3 893.3 740.4C893.6 744.5 893.9 748.6 894.2 752.7C894.5 756.8 894.8 760.9 895.1 765.0C895.3 769.1 895.6 773.2 895.8 777.4C896.0 781.5 896.2 785.6 896.4 789.7C896.6 793.8 896.8 797.9 897.0 802.0L897.0 802.0L897.2 857.0L899.2 864.0L899.3 900.7L906.5 900.7L906.6 864.0L910.4 857.0L910.6 802.0C910.8 798.0 910.9 793.9 911.2 789.9C911.4 785.8 911.6 781.8 911.8 777.7C912.1 773.7 912.3 769.6 912.6 765.6C912.9 761.5 913.2 757.5 913.5 753.4C913.8 749.4 914.2 745.4 914.5 741.3C914.9 737.3 915.3 733.3 915.7 729.2C916.1 725.2 916.6 721.2 917.0 717.1C917.5 713.1 918.0 709.1 918.5 705.1C919.0 701.0 919.5 697.0 920.1 693.0C920.7 689.0 921.3 685.0 921.9 681.0C922.5 677.0 923.1 673.0 923.8 669.0C924.5 665.0 925.2 661.0 925.9 657.0C926.6 653.0 927.3 649.0 928.1 645.0C928.9 641.1 929.7 637.1 930.5 633.1C931.4 629.2 932.3 625.2 933.2 621.3C934.1 617.3 935.0 613.4 936.0 609.4C937.0 605.5 938.1 601.6 939.2 597.7C940.3 593.8 941.4 589.9 942.6 586.0C943.8 582.2 945.1 578.3 946.4 574.5C947.7 570.6 949.1 566.8 950.6 563.0C952.0 559.3 953.5 555.5 955.1 551.8C956.7 548.0 958.4 544.3 960.1 540.7C961.9 537.0 963.7 533.4 965.6 529.8C967.5 526.2 969.4 522.7 971.5 519.2C973.5 515.7 975.7 512.2 977.8 508.8C980.0 505.4 982.3 502.0 984.6 498.7C986.9 495.4 989.3 492.1 991.8 488.9C994.2 485.7 996.7 482.5 999.3 479.4C1001.9 476.2 1004.5 473.1 1007.2 470.1C1009.9 467.1 1012.6 464.1 1015.4 461.1C1018.2 458.2 1021.1 455.3 1024.0 452.5C1026.8 449.6 1029.8 446.8 1032.8 444.1C1035.8 441.4 1038.8 438.7 1041.9 436.0C1044.9 433.4 1048.0 430.8 1051.2 428.2C1054.4 425.7 1057.6 423.2 1060.8 420.8C1064.0 418.3 1067.3 415.9 1070.6 413.6C1073.9 411.2 1077.2 408.9 1080.6 406.6C1083.9 404.4 1087.3 402.2 1090.8 400.0C1094.2 397.8 1097.6 395.7 1101.1 393.6C1104.6 391.5 1108.0 389.4 1111.5 387.4C1115.1 385.3 1118.6 383.3 1122.1 381.4C1125.7 379.4 1129.2 377.5 1132.8 375.6C1136.4 373.6 1140.0 371.8 1143.6 369.9C1147.2 368.1 1150.8 366.2 1154.4 364.4C1158.0 362.6 1161.7 360.8 1165.3 359.0C1169.0 357.2 1172.6 355.5 1176.3 353.7C1179.9 352.0 1183.6 350.3 1187.3 348.5C1190.9 346.8 1194.6 345.1 1198.3 343.4C1202.0 341.7 1205.7 340.0 1209.4 338.4C1213.0 336.7 1216.7 335.0 1220.4 333.4C1224.2 331.7 1227.9 330.1 1231.6 328.5C1235.3 326.8 1239.0 325.2 1242.7 323.6C1246.4 322.0 1250.2 320.4 1253.9 318.8C1257.6 317.2 1261.4 315.6 1265.1 314.1C1268.8 312.5 1272.6 310.9 1276.3 309.4C1280.1 307.8 1283.8 306.3 1287.6 304.8C1291.3 303.2 1295.1 301.7 1298.8 300.2C1302.6 298.7 1306.4 297.2 1310.1 295.7C1313.9 294.2 1317.7 292.7 1321.4 291.2C1325.2 289.7 1329.0 288.2 1332.8 286.8C1336.5 285.3 1340.3 283.8 1344.1 282.4C1347.9 280.9 1351.7 279.5 1355.5 278.0C1359.2 276.6 1363.0 275.1 1366.8 273.7C1370.6 272.3 1374.4 270.8 1378.2 269.4C1382.0 268.0 1385.8 266.6 1389.6 265.2C1393.4 263.7 1397.2 262.3 1401.0 260.9C1404.8 259.5 1408.6 258.1 1412.4 256.7C1416.2 255.3 1420.0 253.9 1423.8 252.5C1427.6 251.1 1431.4 249.7 1435.2 248.4C1439.0 247.0 1442.9 245.6 1446.7 244.2C1450.5 242.8 1454.3 241.4 1458.1 240.0C1461.9 238.7 1465.7 237.3 1469.5 235.9C1473.3 234.5 1477.2 233.2 1481.0 231.8C1484.8 230.4 1488.6 229.0 1492.4 227.7C1496.2 226.3 1500.0 224.9 1503.9 223.6C1507.7 222.2 1511.5 220.8 1515.3 219.5C1519.1 218.1 1522.9 216.7 1526.8 215.4C1530.6 214.0 1534.4 212.7 1538.2 211.3C1542.0 209.9 1545.9 208.6 1549.7 207.2C1553.5 205.9 1557.3 204.5 1561.1 203.2C1565.0 201.8 1568.8 200.4 1572.6 199.1C1576.4 197.7 1580.2 196.4 1584.1 195.0C1587.9 193.7 1591.7 192.3 1595.5 191.0C1599.3 189.6 1603.2 188.3 1607.0 186.9C1610.8 185.6 1614.6 184.2 1618.5 182.9C1622.3 181.5 1626.1 180.2 1629.9 178.8C1633.7 177.5 1637.6 176.1 1641.4 174.8C1645.2 173.4 1649.0 172.1 1652.9 170.8C1656.7 169.4 1660.5 168.1 1664.3 166.7C1668.2 165.4 1672.0 164.0 1675.8 162.7C1679.6 161.3 1683.4 160.0 1687.3 158.6C1691.1 157.3 1694.9 155.9 1698.7 154.6C1702.6 153.3 1706.4 151.9 1710.2 150.6C1714.0 149.2 1717.9 147.9 1721.7 146.5C1725.5 145.2 1729.3 143.8 1733.1 142.5C1737.0 141.1 1740.8 139.8 1744.6 138.4C1748.4 137.1 1752.3 135.7 1756.1 134.4C1759.9 133.0 1763.7 131.7 1767.5 130.3C1771.4 129.0 1775.2 127.6 1779.0 126.3C1782.8 124.9 1786.7 123.6 1790.5 122.2C1794.3 120.9 1798.1 119.5 1801.9 118.1C1805.8 116.8 1809.6 115.4 1813.4 114.1C1817.2 112.7 1821.0 111.3 1824.8 110.0C1828.7 108.6 1832.5 107.3 1836.3 105.9" stroke="#c077e6" stroke-width="13" stroke-linecap="round"/>
</g>
<g stroke="#000" stroke-width="4.8" fill="none">
<line x1="240.7" y1="101.3" x2="266.0" y2="101.3"/>
<line x1="240.7" y1="386.7" x2="266.0" y2="386.7"/>
<line x1="240.7" y1="673.8" x2="266.0" y2="673.8"/>
<line x1="240.7" y1="959.4" x2="266.0" y2="959.4"/>
<line x1="240.7" y1="1246.5" x2="266.0" y2="1246.5"/>
<line x1="240.7" y1="244.0" x2="253.2" y2="244.0"/>
<line x1="240.7" y1="530.3" x2="253.2" y2="530.3"/>
<line x1="240.7" y1="816.6" x2="253.2" y2="816.6"/>
<line x1="240.7" y1="1102.9" x2="253.2" y2="1102.9"/>
<line x1="388.0" y1="1390.3" x2="388.0" y2="1365.5"/>
<line x1="686.1" y1="1390.3" x2="686.1" y2="1365.5"/>
<line x1="984.0" y1="1390.3" x2="984.0" y2="1365.5"/>
<line x1="1279.9" y1="1390.3" x2="1279.9" y2="1365.5"/>
<line x1="1577.8" y1="1390.3" x2="1577.8" y2="1365.5"/>
<line x1="537.8" y1="1390.3" x2="537.8" y2="1378.5"/>
<line x1="833.8" y1="1390.3" x2="833.8" y2="1378.5"/>
<line x1="1131.4" y1="1390.3" x2="1131.4" y2="1378.5"/>
<line x1="1429.8" y1="1390.3" x2="1429.8" y2="1378.5"/>
<line x1="1725.5" y1="1390.3" x2="1725.5" y2="1378.5"/>
</g>
<rect x="240.7" y="71.0" width="1633.3" height="1319.3" fill="none" stroke="#000" stroke-width="5.0"/>
<rect x="1369.1" y="469.0" width="501.7" height="431.4" fill="#fff" stroke="#1a1a1a" stroke-width="2.2"/>
<g stroke-width="14" stroke-linecap="round" fill="none">
<line x1="1379" y1="515.0" x2="1528.3" y2="515.0" stroke="#4d4d4d"/>
<line x1="1379" y1="598.7" x2="1528.3" y2="598.7" stroke="#ff3b3b"/>
<line x1="1379" y1="682.9" x2="1528.3" y2="682.9" stroke="#0066dd"/>
<line x1="1379" y1="768.4" x2="1528.3" y2="768.4" stroke="#00a862"/>
<line x1="1379" y1="852.3" x2="1528.3" y2="852.3" stroke="#c077e6"/>
</g>
<g stroke="#000" stroke-width="0.7">
<text y="538.60"><tspan x="1587.73" font-size="58.1" textLength="141.12" lengthAdjust="spacingAndGlyphs">Bare </tspan><tspan x="1728.19" font-size="58.1" textLength="76.87" lengthAdjust="spacingAndGlyphs">Cu</tspan></text>
<text y="622.80"><tspan x="1588.46" font-size="61.0" textLength="65.32" lengthAdjust="spacingAndGlyphs">ES</tspan><tspan x="1661.22" font-size="60.0" textLength="88.63" lengthAdjust="spacingAndGlyphs">150</tspan></text>
<text y="706.00"><tspan x="1588.46" font-size="61.0" textLength="65.32" lengthAdjust="spacingAndGlyphs">ES</tspan><tspan x="1655.89" font-size="60.0" textLength="93.67" lengthAdjust="spacingAndGlyphs">200</tspan></text>
<text y="793.40"><tspan x="1588.46" font-size="61.0" textLength="65.32" lengthAdjust="spacingAndGlyphs">ES</tspan><tspan x="1655.89" font-size="60.0" textLength="93.67" lengthAdjust="spacingAndGlyphs">250</tspan></text>
<text y="875.40"><tspan x="1588.46" font-size="61.0" textLength="65.32" lengthAdjust="spacingAndGlyphs">ES</tspan><tspan x="1659.58" font-size="60.0" textLength="89.90" lengthAdjust="spacingAndGlyphs">300</tspan></text>
</g>
<g>
<text y="118.30"><tspan x="145.59" dy="-1.6" font-size="58" textLength="35.16" lengthAdjust="spacingAndGlyphs" style="fill:#555">−</tspan><tspan x="180.63" dy="1.6" font-size="58" textLength="31.50" lengthAdjust="spacingAndGlyphs">4</tspan></text>
<text y="403.70"><tspan x="148.81" dy="-1.6" font-size="58" textLength="31.43" lengthAdjust="spacingAndGlyphs" style="fill:#555">−</tspan><tspan x="182.89" dy="1.6" font-size="58" textLength="29.39" lengthAdjust="spacingAndGlyphs">5</tspan></text>
<text y="690.80"><tspan x="146.68" dy="-1.6" font-size="58" textLength="32.99" lengthAdjust="spacingAndGlyphs" style="fill:#555">−</tspan><tspan x="179.46" dy="1.6" font-size="58" textLength="33.79" lengthAdjust="spacingAndGlyphs">6</tspan></text>
<text y="976.40"><tspan x="149.23" dy="-1.6" font-size="58" textLength="32.39" lengthAdjust="spacingAndGlyphs" style="fill:#555">−</tspan><tspan x="182.09" dy="1.6" font-size="58" textLength="30.85" lengthAdjust="spacingAndGlyphs">7</tspan></text>
<text y="1263.50"><tspan x="144.20" dy="-1.6" font-size="58" textLength="33.83" lengthAdjust="spacingAndGlyphs" style="fill:#555">−</tspan><tspan x="180.83" dy="1.6" font-size="58" textLength="32.31" lengthAdjust="spacingAndGlyphs">8</tspan></text>
<text y="1461.60"><tspan x="304.40" font-size="58" textLength="33.83" lengthAdjust="spacingAndGlyphs" style="fill:#555">−</tspan><tspan x="344.66" font-size="58" textLength="109.23" lengthAdjust="spacingAndGlyphs">0.40</tspan></text>
<text y="1461.60"><tspan x="603.64" font-size="58" textLength="32.27" lengthAdjust="spacingAndGlyphs" style="fill:#555">−</tspan><tspan x="639.95" font-size="58" textLength="109.27" lengthAdjust="spacingAndGlyphs">0.35</tspan></text>
<text y="1461.60"><tspan x="901.15" font-size="58" textLength="33.23" lengthAdjust="spacingAndGlyphs" style="fill:#555">−</tspan><tspan x="938.88" font-size="58" textLength="107.87" lengthAdjust="spacingAndGlyphs">0.30</tspan></text>
<text y="1461.60"><tspan x="1194.20" font-size="58" textLength="33.83" lengthAdjust="spacingAndGlyphs" style="fill:#555">−</tspan><tspan x="1234.44" font-size="58" textLength="110.10" lengthAdjust="spacingAndGlyphs">0.25</tspan></text>
<text y="1461.60"><tspan x="1492.07" font-size="58" textLength="34.20" lengthAdjust="spacingAndGlyphs" style="fill:#555">−</tspan><tspan x="1531.14" font-size="58" textLength="109.96" lengthAdjust="spacingAndGlyphs">0.20</tspan></text>
<text y="1461.60"><tspan x="1790.88" font-size="58" textLength="32.99" lengthAdjust="spacingAndGlyphs" style="fill:#555">−</tspan><tspan x="1830.41" font-size="58" textLength="106.66" lengthAdjust="spacingAndGlyphs">0.15</tspan></text>
</g>
<text transform="translate(636.20 1588.00) scale(0.9597 1)" font-size="72">Potential (V vs.Ag/AgCl)</text>
<text transform="translate(106.6 986.27) rotate(-90) scale(0.9539 1)" font-size="72.0">Log i (A/cm<tspan font-size="48.0" dy="-29.5">2</tspan><tspan dy="29.5">)</tspan></text>
</g>
</svg></body></html>
